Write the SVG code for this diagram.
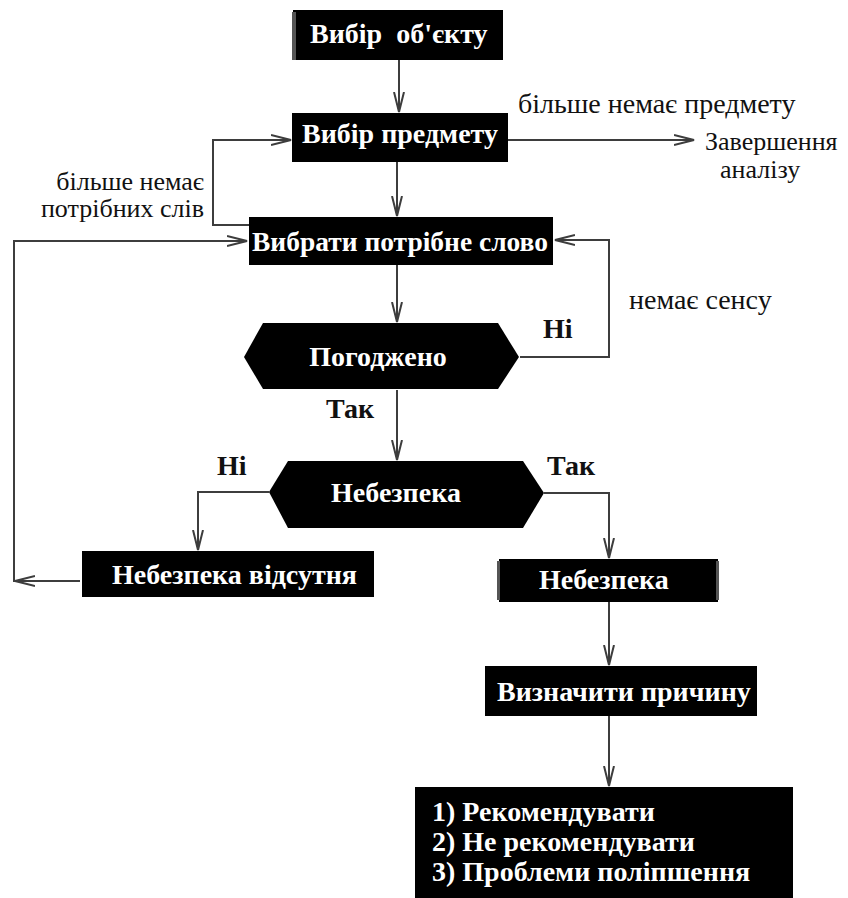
<svg xmlns="http://www.w3.org/2000/svg" width="848" height="898" viewBox="0 0 848 898">
<defs>
<marker id="arr" markerUnits="userSpaceOnUse" markerWidth="24" markerHeight="14" refX="20" refY="7" orient="auto">
<path d="M0,2 L20,7 L0,12" fill="none" stroke="#3d3d3d" stroke-width="2"/>
</marker>
<style>
.box{fill:#000}
.bt{font-family:"Liberation Serif","DejaVu Serif",serif;font-weight:bold;font-size:28px;fill:#fff}
.lbl{font-family:"Liberation Serif","DejaVu Serif",serif;font-size:28px;fill:#111}
.lbm{font-family:"Liberation Serif","DejaVu Serif",serif;font-size:26px;fill:#111}
.lbb{font-family:"Liberation Serif","DejaVu Serif",serif;font-weight:bold;font-size:28px;fill:#111}
.ln{fill:none;stroke:#3d3d3d;stroke-width:2}
</style>
</defs>
<rect width="848" height="898" fill="#fff"/>
<g id="connectors">
<path class="ln" d="M399,60 V112" marker-end="url(#arr)"/>
<path class="ln" d="M508,140 H694" marker-end="url(#arr)"/>
<path class="ln" d="M249,225 H213 V140 H291" marker-end="url(#arr)"/>
<path class="ln" d="M397,162 V216" marker-end="url(#arr)"/>
<path class="ln" d="M397,265 V322" marker-end="url(#arr)"/>
<path class="ln" d="M520,357 H609 V240 H555" marker-end="url(#arr)"/>
<path class="ln" d="M397,390 V460" marker-end="url(#arr)"/>
<path class="ln" d="M269,492 H198 V550" marker-end="url(#arr)"/>
<path class="ln" d="M544,493 H609 V558" marker-end="url(#arr)"/>
<path class="ln" d="M80,581 H15" marker-end="url(#arr)"/>
<path class="ln" d="M14,582 V241 H247" marker-end="url(#arr)"/>
<path class="ln" d="M609,602 V665" marker-end="url(#arr)"/>
<path class="ln" d="M609,716 V786" marker-end="url(#arr)"/>
</g>
<g id="n_obj">
<rect class="box" x="293" y="10" width="210" height="50"/>
<rect x="292" y="12" width="4" height="48" fill="#555"/>
<text class="bt" x="310" y="43" xml:space="preserve">Вибір  об'єкту</text>
</g>
<g id="n_subject">
<rect class="box" x="292" y="113" width="216" height="49"/>
<text class="bt" x="302" y="143">Вибір предмету</text>
</g>
<g id="n_word">
<rect class="box" x="249" y="217" width="304" height="48"/>
<text class="bt" x="252" y="251" textLength="296" lengthAdjust="spacingAndGlyphs">Вибрати потрібне слово</text>
</g>
<g id="n_agreed">
<polygon class="box" points="244,357 263,323 498,323 519,357 498,389 263,389"/>
<text class="bt" x="378" y="366" text-anchor="middle">Погоджено</text>
</g>
<g id="n_danger_q">
<polygon class="box" points="269,492 288,461 523,461 544,493 523,528 288,528"/>
<text class="bt" x="396" y="502" text-anchor="middle">Небезпека</text>
</g>
<g id="n_no_danger">
<rect class="box" x="82" y="551" width="292" height="46"/>
<text class="bt" x="112" y="584">Небезпека відсутня</text>
</g>
<g id="n_danger">
<rect class="box" x="499" y="559" width="219" height="43"/>
<rect x="497" y="561" width="3" height="39" fill="#555"/>
<rect x="716" y="561" width="3" height="39" fill="#555"/>
<text class="bt" x="539" y="589">Небезпека</text>
</g>
<g id="n_cause">
<rect class="box" x="485" y="666" width="272" height="50"/>
<text class="bt" x="497" y="701">Визначити причину</text>
</g>
<g id="n_result">
<rect class="box" x="415" y="787" width="378" height="111"/>
<text class="bt" x="432" y="821">1) Рекомендувати</text>
<text class="bt" x="432" y="851">2) Не рекомендувати</text>
<text class="bt" x="432" y="881">3) Проблеми поліпшення</text>
</g>
<g id="labels">
<text class="lbl" x="518" y="113">більше немає предмету</text>
<text class="lbm" x="705" y="150">Завершення</text>
<text class="lbm" x="720" y="178">аналізу</text>
<text class="lbm" x="204" y="190" text-anchor="end">більше немає</text>
<text class="lbm" x="204" y="217" text-anchor="end">потрібних слів</text>
<text class="lbl" x="629" y="309">немає сенсу</text>
<text class="lbb" x="543" y="338">Ні</text>
<text class="lbb" x="326" y="418">Так</text>
<text class="lbb" x="217" y="475">Ні</text>
<text class="lbb" x="547" y="475">Так</text>
</g>
</svg>
